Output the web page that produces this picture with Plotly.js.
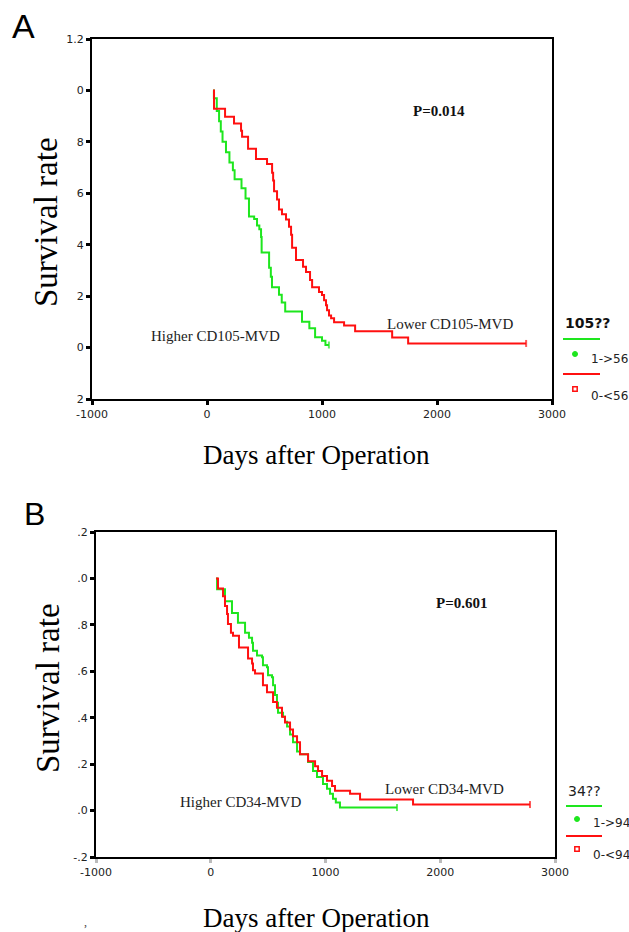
<!DOCTYPE html>
<html>
<head>
<meta charset="utf-8">
<script src="https://cdn.plot.ly/plotly-3.0.1.min.js"></script>
<style>html,body{margin:0;padding:0;background:#fff;}#chart{width:629px;height:932px;}</style>
</head>
<body>
<div id="chart"></div>
<script>
// ---------- Data ----------
// Panel A: CD105-MVD
const daysA_high = [52, 60, 85, 105, 120, 135, 165, 195, 225, 240, 300, 335, 365, 410, 435, 455, 470, 475, 540, 555, 565, 626, 650, 680, 826, 890, 940, 1000, 1030, 1060];
const survA_high = [1.0, 0.97, 0.92, 0.88, 0.84, 0.80, 0.76, 0.72, 0.69, 0.655, 0.62, 0.58, 0.51, 0.50, 0.475, 0.46, 0.43, 0.37, 0.31, 0.275, 0.235, 0.205, 0.175, 0.14, 0.10, 0.075, 0.04, 0.027, 0.01, 0.01];
const daysA_low = [52, 61, 157, 235, 296, 305, 357, 426, 522, 566, 575, 583, 609, 626, 652, 687, 713, 731, 740, 774, 835, 861, 896, 914, 974, 1000, 1018, 1035, 1044, 1061, 1079, 1105, 1192, 1288, 1610, 1749, 2775];
const survA_low = [1.0, 0.929, 0.898, 0.871, 0.843, 0.82, 0.773, 0.733, 0.714, 0.68, 0.65, 0.608, 0.576, 0.537, 0.518, 0.498, 0.47, 0.439, 0.388, 0.341, 0.314, 0.294, 0.263, 0.235, 0.216, 0.204, 0.184, 0.165, 0.145, 0.125, 0.114, 0.098, 0.086, 0.063, 0.039, 0.016, 0.016];
// Panel B: CD34-MVD
const daysB_high = [46, 55, 124, 185, 237, 299, 333, 360, 368, 403, 447, 455, 490, 499, 534, 543, 560, 577, 586, 630, 647, 665, 691, 717, 752, 778, 848, 891, 926, 978, 1013, 1039, 1065, 1090, 1126, 1623];
const survB_high = [1.0, 0.953, 0.902, 0.851, 0.809, 0.766, 0.745, 0.723, 0.689, 0.668, 0.66, 0.626, 0.617, 0.583, 0.574, 0.54, 0.498, 0.464, 0.421, 0.404, 0.383, 0.362, 0.328, 0.294, 0.255, 0.243, 0.209, 0.17, 0.145, 0.115, 0.094, 0.072, 0.051, 0.035, 0.013, 0.013];
const daysB_low = [46, 63, 107, 124, 142, 150, 176, 194, 246, 325, 360, 368, 386, 455, 490, 543, 577, 621, 647, 691, 717, 752, 778, 848, 909, 935, 970, 1013, 1057, 1083, 1214, 1301, 1763, 2782];
const survB_low = [1.0, 0.957, 0.923, 0.881, 0.847, 0.804, 0.766, 0.753, 0.702, 0.655, 0.634, 0.604, 0.591, 0.54, 0.51, 0.468, 0.443, 0.404, 0.379, 0.349, 0.32, 0.294, 0.243, 0.213, 0.191, 0.17, 0.149, 0.128, 0.106, 0.085, 0.072, 0.048, 0.026, 0.026];

const xTickVals = [-1000, 0, 1000, 2000, 3000];
const xTickText = ['-1000', '0', '1000', '2000', '3000'];
const yTickVals = [-0.2, 0, 0.2, 0.4, 0.6, 0.8, 1.0, 1.2];
const yTickTextA = ['2', '0', '2', '4', '6', '8', '0', '1.2'];
const yTickTextB = ['-.2', '.0', '.2', '.4', '.6', '.8', '.0', '.2'];

const legendA = {title: '105??', high: '1->56', low: '0-<56'};
const legendB = {title: '34??', high: '1->94', low: '0-<94'};

// ---------- Styling / layout ----------
const W = 629, H = 932;
const GREEN = '#1ee61e', RED = '#ff1010';
const px = x => x / W;
const py = y => 1 - y / H;

function km(days, surv, color, xa, ya) {
  const n = days.length;
  return {
    x: days, y: surv, xaxis: xa, yaxis: ya, type: 'scatter', mode: 'lines+markers',
    line: {shape: 'hv', color: color, width: 2},
    marker: {symbol: 'line-ns-open', size: days.map((d, i) => i === n - 1 ? 5 : 0), line: {color: color, width: 2}, color: color},
    showlegend: false, hoverinfo: 'skip'
  };
}

const data = [
  km(daysA_high, survA_high, GREEN, 'x', 'y'),
  km(daysA_low, survA_low, RED, 'x', 'y'),
  km(daysB_high, survB_high, GREEN, 'x2', 'y2'),
  km(daysB_low, survB_low, RED, 'x2', 'y2')
];

const tickFont = {family: 'DejaVu Sans', size: 11, color: '#222'};
function xAxis(domain, anchor, tickcolor) {
  return {domain: domain, anchor: anchor, range: [-1000, 3000], tickvals: xTickVals, ticktext: xTickText,
    showline: true, mirror: true, linecolor: '#000', linewidth: 2, ticks: 'outside', ticklen: 4, tickwidth: 3,
    tickcolor: tickcolor, showgrid: false, zeroline: false, tickfont: tickFont};
}
function yAxis(domain, anchor, ticktext) {
  return {domain: domain, anchor: anchor, range: [-0.2, 1.2], tickvals: yTickVals, ticktext: ticktext,
    showline: true, mirror: true, linecolor: '#000', linewidth: 2, ticks: 'outside', ticklen: 4, tickwidth: 3,
    tickcolor: '#000', showgrid: false, zeroline: false, tickfont: tickFont};
}

const serif = 'Liberation Serif';
function ann(text, x, y, size, opts) {
  return Object.assign({text: text, x: px(x), y: py(y), xref: 'paper', yref: 'paper', showarrow: false,
    xanchor: 'center', yanchor: 'middle', font: {family: serif, size: size, color: '#111'}}, opts || {});
}
const sans = 'DejaVu Sans';

const annotations = [
  ann('A', 23, 26, 34, {font: {family: 'Liberation Sans', size: 34, color: '#000'}}),
  ann('B', 34, 514, 32, {font: {family: 'Liberation Sans', size: 32, color: '#000'}}),
  ann('Survival rate', 46, 222, 33, {textangle: -90, font: {family: serif, size: 33, color: '#000'}}),
  ann('Survival rate', 48, 688, 33, {textangle: -90, font: {family: serif, size: 33, color: '#000'}}),
  ann('Days after Operation', 317, 455, 27, {font: {family: serif, size: 27, color: '#000'}}),
  ann('Days after Operation', 317, 918, 27, {font: {family: serif, size: 27, color: '#000'}}),
  ann('<b>P=0.014</b>', 439, 111, 15),
  ann('<b>P=0.601</b>', 461, 603, 15),
  ann('Higher CD105-MVD', 215, 336, 15, {font: {family: serif, size: 15, color: '#222'}}),
  ann('Lower CD105-MVD', 450, 324, 15, {font: {family: serif, size: 15, color: '#222'}}),
  ann('Higher CD34-MVD', 241, 802, 15, {font: {family: serif, size: 15, color: '#222'}}),
  ann('Lower CD34-MVD', 444, 789, 15, {font: {family: serif, size: 15, color: '#222'}}),
  ann('<b>' + legendA.title + '</b>', 563, 323, 14, {xanchor: 'left', font: {family: sans, size: 14, color: '#111'}}),
  ann(legendA.high, 589, 359, 12, {xanchor: 'left', font: {family: sans, size: 12, color: '#222'}}),
  ann(legendA.low, 589, 396, 12, {xanchor: 'left', font: {family: sans, size: 12, color: '#222'}}),
  ann(legendB.title, 566, 791, 14, {xanchor: 'left', font: {family: sans, size: 14, color: '#222'}}),
  ann(legendB.high, 591, 823, 12, {xanchor: 'left', font: {family: sans, size: 12, color: '#222'}}),
  ann(legendB.low, 591, 855, 12, {xanchor: 'left', font: {family: sans, size: 12, color: '#222'}}),
  ann(',', 85, 922, 12, {font: {family: serif, size: 12, color: '#444'}})
];

function hline(x0, x1, y, color) {
  return {type: 'line', xref: 'paper', yref: 'paper', x0: px(x0), x1: px(x1), y0: py(y), y1: py(y), line: {color: color, width: 2}};
}
function dot(x, y, r, color) {
  return {type: 'circle', xref: 'paper', yref: 'paper', x0: px(x - r), x1: px(x + r), y0: py(y + r), y1: py(y - r), fillcolor: color, line: {color: color, width: 1}};
}
function sq(x, y, r, color) {
  return {type: 'rect', xref: 'paper', yref: 'paper', x0: px(x - r), x1: px(x + r), y0: py(y + r), y1: py(y - r), fillcolor: '#fff', line: {color: color, width: 1.5}};
}
const shapes = [
  hline(563, 600, 339, GREEN), dot(575, 354, 2.5, GREEN),
  hline(563, 600, 374, RED), sq(575, 389, 2.2, RED),
  hline(566, 602, 806, GREEN), dot(577, 819, 2.5, GREEN),
  hline(566, 602, 836, RED), sq(577, 849, 2.2, RED)
];

const layout = {
  width: W, height: H, margin: {l: 0, r: 0, t: 0, b: 0},
  paper_bgcolor: '#fff', plot_bgcolor: '#fff',
  xaxis: xAxis([px(92), px(552)], 'y', '#000'),
  yaxis: yAxis([py(399), py(39)], 'x', yTickTextA),
  xaxis2: xAxis([px(96), px(555)], 'y2', '#bbb'),
  yaxis2: yAxis([py(857), py(532)], 'x2', yTickTextB),
  annotations: annotations, shapes: shapes, showlegend: false
};

Plotly.newPlot('chart', data, layout, {staticPlot: true, displayModeBar: false});
</script>
</body>
</html>
